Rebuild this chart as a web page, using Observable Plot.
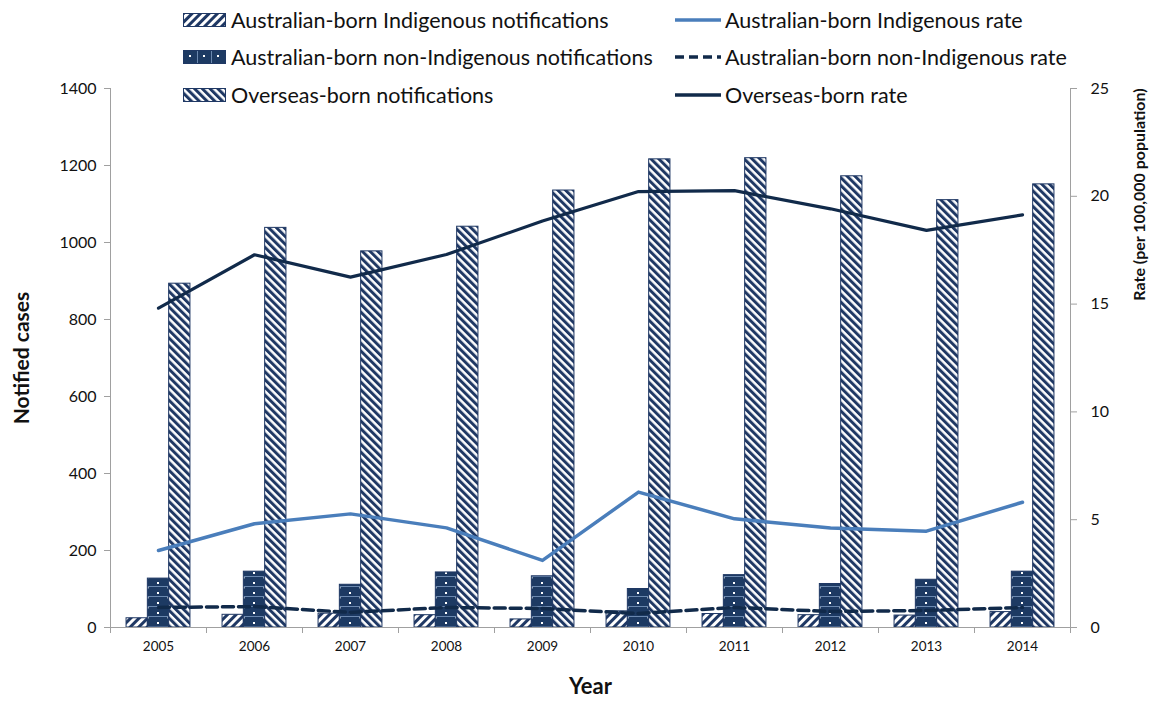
<!DOCTYPE html>
<html>
<head>
<meta charset="utf-8">
<script src="https://cdn.jsdelivr.net/npm/d3@7"></script>
<script src="https://cdn.jsdelivr.net/npm/@observablehq/plot@0.6"></script>
<style>
  html, body { margin: 0; padding: 0; background: #fff; }
  #wrap { position: relative; width: 1149px; height: 704px; overflow: hidden; }
  #legend { position: absolute; left: 0; top: 0; width: 1149px; height: 110px; font-family: Lato, "Open Sans", sans-serif; font-size: 21.5px; color: #111; }
  .lg-item { position: absolute; display: flex; align-items: center; height: 26px; white-space: nowrap; }
  .lg-item svg { display: block; margin-right: 4px; }
</style>
</head>
<body>
<svg width="0" height="0" style="position:absolute">
  <defs>
    <pattern id="pInd" width="6" height="6" patternUnits="userSpaceOnUse" patternTransform="rotate(45)">
      <rect width="6" height="6" fill="#fff"/><rect width="3" height="6" fill="#1f3864"/>
    </pattern>
    <pattern id="pOver" width="5.5" height="5.5" patternUnits="userSpaceOnUse" patternTransform="rotate(-45)">
      <rect width="5.5" height="5.5" fill="#fff"/><rect width="3" height="5.5" fill="#1f3864"/>
    </pattern>
    <pattern id="pNon" x="110" y="0" width="96" height="10" patternUnits="userSpaceOnUse">
      <rect width="96" height="10" fill="#1d3a63"/>
      <rect x="47" y="2" width="2" height="2" fill="#fff"/>
      <rect x="37" y="7" width="1.5" height="1.5" fill="#fff"/>
      <rect x="57.5" y="7" width="1.5" height="1.5" fill="#fff"/>
      <rect x="0" y="6" width="96" height="0.8" fill="#7f9cc2"/>
    </pattern>
    <pattern id="pNonL" x="0" y="0" width="14" height="14" patternUnits="userSpaceOnUse">
      <rect width="14" height="14" fill="#1d3a63"/>
      <rect x="6" y="6" width="2" height="2" fill="#fff"/>
      <rect x="0" y="0" width="0.8" height="14" fill="#7f9cc2"/>
    </pattern>
  </defs>
</svg>
<div id="wrap">
  <div id="chart"></div>
  <div id="legend"></div>
</div>
<script>
// ---- data ----
const years = ["2005","2006","2007","2008","2009","2010","2011","2012","2013","2014"];
const indigenousCases    = [24, 33, 36, 32, 21, 42, 35, 32, 31, 40];
const nonIndigenousCases = [127, 145, 111, 143, 133, 100, 136, 113, 124, 145];
const overseasCases      = [893, 1038, 977, 1041, 1135, 1216, 1219, 1172, 1110, 1151];
const indigenousRate     = [3.57, 4.81, 5.27, 4.62, 3.11, 6.28, 5.04, 4.62, 4.47, 5.81];
const nonIndigenousRate  = [0.93, 0.97, 0.70, 0.93, 0.88, 0.65, 0.93, 0.74, 0.79, 0.93];
const overseasRate       = [14.81, 17.29, 16.25, 17.30, 18.85, 20.22, 20.26, 19.42, 18.42, 19.14];
const countTicks = [0, 200, 400, 600, 800, 1000, 1200, 1400];
const rateTicks  = [0, 5, 10, 15, 20, 25];
const seriesNames = [
  "Australian-born Indigenous notifications",
  "Australian-born non-Indigenous notifications",
  "Overseas-born notifications",
  "Australian-born Indigenous rate",
  "Australian-born non-Indigenous rate",
  "Overseas-born rate"
];

// ---- layout ----
const W = 1149, H = 704;
const mL = 110, mR = 79, mT = 88, mB = 77;
const step = (W - mL - mR) / years.length;   // band width
const barW = 21.3;
const gap = (step - 3 * barW) / 2;
const RATE = countTicks[countTicks.length - 1] / rateTicks[rateTicks.length - 1]; // secondary-axis mapping

const rows = (vals) => years.map((year, i) => ({year, value: vals[i]}));
const navy = "#1f3864";
const darkLine = "#112a4a";
const blueLine = "#4a7ebb";
const axisGrey = "#a0a0a0";

const chart = Plot.plot({
  width: W, height: H,
  marginLeft: mL, marginRight: mR, marginTop: mT, marginBottom: mB,
  style: {fontFamily: "Lato, 'Open Sans', sans-serif", color: "#111", background: "#fff"},
  x: {type: "band", domain: years, padding: 0},
  y: {domain: [0, countTicks[countTicks.length - 1]]},
  marks: [
    Plot.barY(rows(indigenousCases), {x: "year", y: "value", fill: "url(#pInd)", stroke: navy, strokeWidth: 1,
      insetLeft: gap, insetRight: step - gap - barW}),
    Plot.barY(rows(nonIndigenousCases), {x: "year", y: "value", fill: "url(#pNon)", stroke: navy, strokeWidth: 1,
      insetLeft: gap + barW, insetRight: gap + barW}),
    Plot.barY(rows(overseasCases), {x: "year", y: "value", fill: "url(#pOver)", stroke: navy, strokeWidth: 1,
      insetLeft: step - gap - barW, insetRight: gap}),
    Plot.frame({anchor: "left", stroke: axisGrey}),
    Plot.frame({anchor: "right", stroke: axisGrey}),
    Plot.ruleY([0], {stroke: axisGrey}),
    Plot.lineY(rows(indigenousRate), {x: "year", y: d => d.value * RATE, stroke: blueLine, strokeWidth: 3.5, strokeLinejoin: "round"}),
    Plot.lineY(rows(nonIndigenousRate), {x: "year", y: d => d.value * RATE, stroke: darkLine, strokeWidth: 3.5, strokeDasharray: "11,5"}),
    Plot.lineY(rows(overseasRate), {x: "year", y: d => d.value * RATE, stroke: darkLine, strokeWidth: 3.2, strokeLinejoin: "round"}),
    Plot.axisY(countTicks, {anchor: "left", tickSize: 6, tickPadding: 8, fontSize: 16, stroke: axisGrey,
      tickFormat: d => String(d), label: null}),
    Plot.axisY(rateTicks.map(r => r * RATE), {anchor: "right", tickSize: 6, stroke: axisGrey,
      tickFormat: () => "", label: null}),
    Plot.text(rateTicks, {frameAnchor: "right", y: r => r * RATE, text: r => String(r), dx: 20,
      textAnchor: "start", fontSize: 16}),
    Plot.axisX(years, {anchor: "bottom", tickSize: 0, tickPadding: 14, fontSize: 13.5, label: null}),
    Plot.axisX(years, {anchor: "bottom", tickSize: 6, dx: -step / 2, stroke: axisGrey, tickFormat: () => "", label: null}),
    Plot.axisX([years[years.length - 1]], {anchor: "bottom", tickSize: 6, dx: step / 2, stroke: axisGrey, tickFormat: () => "", label: null}),
    Plot.text(["Notified cases"], {frameAnchor: "left", rotate: -90, dx: -88, fontSize: 21, fontWeight: "bold", textAnchor: "middle"}),
    Plot.text(["Rate (per 100,000 population)"], {frameAnchor: "top-right", rotate: -90, dx: 63, dy: 106, fontSize: 16, fontWeight: "bold", textAnchor: "middle"}),
    Plot.text(["Year"], {frameAnchor: "bottom", dy: 66, fontSize: 22, fontWeight: "bold", textAnchor: "middle"})
  ]
});
document.getElementById("chart").appendChild(chart);

// ---- legend ----
const legend = document.getElementById("legend");
const swatches = [
  {kind: "bar", fill: "url(#pInd)"},
  {kind: "bar", fill: "url(#pNonL)"},
  {kind: "bar", fill: "url(#pOver)"},
  {kind: "line", stroke: blueLine, dash: null},
  {kind: "line", stroke: darkLine, dash: "9,5"},
  {kind: "line", stroke: darkLine, dash: null}
];
const rowY = [20, 57, 95];
seriesNames.forEach((name, i) => {
  const col = i < 3 ? 0 : 1;
  const r = i % 3;
  const sw = swatches[i];
  const item = document.createElement("div");
  item.className = "lg-item";
  item.style.left = (col === 0 ? 183 : 675) + "px";
  item.style.top = (rowY[r] - 13) + "px";
  let svg;
  if (sw.kind === "bar") {
    svg = `<svg width="44" height="16"><rect x="0.5" y="1.5" width="42" height="13" fill="${sw.fill}" stroke="${navy}" stroke-width="1"/></svg>`;
  } else {
    svg = `<svg width="46" height="16"><line x1="0" x2="46" y1="8" y2="8" stroke="${sw.stroke}" stroke-width="3.5" ${sw.dash ? `stroke-dasharray="${sw.dash}"` : ""}/></svg>`;
  }
  item.innerHTML = svg + `<span>${name}</span>`;
  legend.appendChild(item);
});
</script>
</body>
</html>
